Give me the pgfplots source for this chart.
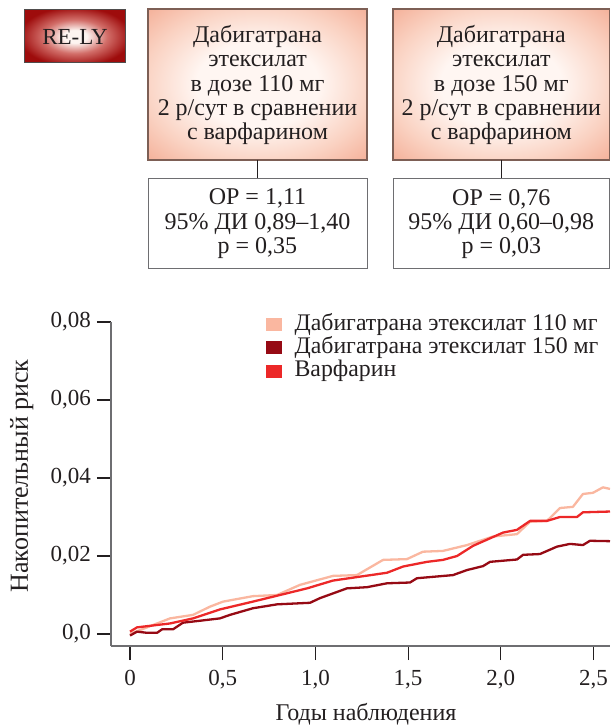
\documentclass[border=0pt]{standalone}
\usepackage{fontspec}
\setmainfont{Liberation Serif}
\usepackage{pgfplots}
\pgfplotsset{compat=1.18}

\definecolor{txt}{RGB}{35,31,32}
\definecolor{axgray}{RGB}{110,110,113}
\definecolor{boxline}{RGB}{125,95,85}
\definecolor{d110}{RGB}{250,183,160}
\definecolor{d150}{RGB}{150,10,20}
\definecolor{warf}{RGB}{236,40,40}
\definecolor{boxin}{RGB}{255,246,242}
\definecolor{boxmid}{RGB}{250,210,194}
\definecolor{boxout}{RGB}{243,168,143}
\definecolor{badgein}{RGB}{253,244,240}
\definecolor{badgemid}{RGB}{210,110,105}
\definecolor{badgeout}{RGB}{158,12,12}

\pgfdeclareradialshading{boxglow}{\pgfpoint{0bp}{0bp}}{%
  color(0bp)=(boxin); color(14bp)=(boxin); color(26bp)=(boxmid);
  color(38bp)=(boxout); color(50bp)=(boxout)}
\pgfdeclareradialshading{badgeglow}{\pgfpoint{0bp}{0bp}}{%
  color(0bp)=(badgein); color(6bp)=(badgein); color(16bp)=(badgemid);
  color(28bp)=(badgeout); color(50bp)=(badgeout)}

\pgfplotstableread{
x y
0.000 0.0000
0.054 0.0010
0.216 0.0040
0.340 0.0049
0.431 0.0070
0.502 0.0083
0.663 0.0097
0.793 0.0100
0.917 0.0126
1.095 0.0149
1.224 0.0151
1.365 0.0190
1.494 0.0192
1.580 0.0211
1.688 0.0213
1.818 0.0228
1.958 0.0250
2.087 0.0256
2.158 0.0288
2.249 0.0290
2.319 0.0323
2.389 0.0326
2.443 0.0359
2.497 0.0362
2.551 0.0376
2.589 0.0372
}\dabiA

\pgfplotstableread{
x y
0.000 -0.0004
0.038 0.0006
0.092 0.0003
0.146 0.0003
0.173 0.0012
0.232 0.0012
0.286 0.0029
0.378 0.0034
0.485 0.0040
0.539 0.0049
0.663 0.0066
0.793 0.0076
0.971 0.0080
1.025 0.0092
1.170 0.0117
1.278 0.0120
1.386 0.0130
1.510 0.0132
1.548 0.0143
1.742 0.0151
1.818 0.0164
1.904 0.0174
1.942 0.0185
2.087 0.0191
2.120 0.0203
2.211 0.0205
2.303 0.0224
2.373 0.0231
2.443 0.0228
2.481 0.0239
2.589 0.0238
}\dabiB

\pgfplotstableread{
x y
0.000 0.0006
0.038 0.0017
0.216 0.0027
0.340 0.0040
0.485 0.0063
0.663 0.0083
0.809 0.0100
0.955 0.0117
1.095 0.0137
1.240 0.0147
1.386 0.0157
1.473 0.0173
1.602 0.0185
1.688 0.0190
1.764 0.0200
1.850 0.0226
2.012 0.0260
2.087 0.0267
2.158 0.0290
2.249 0.0290
2.319 0.0300
2.411 0.0300
2.443 0.0312
2.589 0.0314
}\warfarin

\begin{document}
\begin{tikzpicture}[x=1pt, y=1pt, font=\fontsize{12}{12.2}\selectfont, color=txt]
  \begin{axis}[
      scale only axis,
      width=249.5pt,
      height=162pt,
      xmin=-0.1025, xmax=2.589,
      ymin=-0.00308, ymax=0.08,
      scaled y ticks=false,
      axis x line*=bottom,
      axis y line*=left,
      axis line style={axgray, line width=0.6pt},
      tick align=outside,
      major tick length=7pt,
      tick style={txt, line width=0.6pt},
      xtick={0,0.5,1,1.5,2,2.5},
      xticklabels={0,{0,5},{1,0},{1,5},{2,0},{2,5}},
      ytick={0,0.02,0.04,0.06,0.08},
      yticklabels={{0,0},{0,02},{0,04},{0,06},{0,08}},
      ticklabel style={font=\fontsize{11.5}{12}\selectfont, text=txt},
      yticklabel style={xshift=0.5pt},
      xticklabel style={yshift=-1.5pt},
      ylabel={Накопительный риск},
      ylabel style={at={(axis description cs:-0.179,0.525)}, anchor=center,
        font=\fontsize{13}{13}\selectfont},
      xlabel={Годы наблюдения},
      xlabel style={at={(axis description cs:0.511,-0.21)}, anchor=center,
        font=\fontsize{12}{12}\selectfont},
      label style={text=txt},
      legend style={draw=none, fill=none, at={(axis description cs:0.309,1.03)},
        anchor=north west, row sep=0pt, column sep=6pt, inner sep=0pt,
        nodes={inner sep=0.5pt, text height=8.2pt, text depth=2.5pt},
        font=\fontsize{11.9}{12}\selectfont, text=txt},
      legend cell align=left,
      legend image code/.code={\fill[#1, draw=none] (0pt,-3.2pt) rectangle (8pt,3.3pt);},
      every axis plot/.append style={line width=1.15pt, line join=round},
    ]
    \addplot[d110] table[x=x, y=y] {\dabiA};
    \addlegendentry{Дабигатрана этексилат 110 мг}
    \addplot[d150] table[x=x, y=y] {\dabiB};
    \addlegendentry{Дабигатрана этексилат 150 мг}
    \addplot[warf] table[x=x, y=y] {\warfarin};
    \addlegendentry{Варфарин}
  \end{axis}

  % header: badge, comparison boxes, statistics
  \draw[txt!80, line width=0.5pt, shading=badgeglow]
    (-43,318) rectangle (7,291.5);
  \node[font=\fontsize{11.5}{12}\selectfont] at (-18,304.5) {RE-LY};

  \foreach \xl/\xr/\dose/\hr/\ci/\pv in
      {18.5/128/110/{1,11}/{0,89–1,40}/{0,35}, 141/249.3/150/{0,76}/{0,60–0,98}/{0,03}} {
    \draw[boxline, line width=0.6pt, shading=boxglow]
      (\xl,318.5) rectangle (\xr,243);
    \node[align=center] at ({(\xl+\xr)/2},280.5)
      {Дабигатрана\\этексилат\\в дозе \dose{} мг\\2 р/сут в сравнении\\с варфарином};
    \draw[txt, line width=0.5pt] ({(\xl+\xr)/2},243) -- ({(\xl+\xr)/2},233.5);
    \draw[axgray, line width=0.5pt, fill=white] (\xl,233.5) rectangle (\xr,188.5);
    \node[align=center] at ({(\xl+\xr)/2},211)
      {ОР = \hr\\95\% ДИ \ci\\р = \pv};
  }

  \pgfresetboundingbox
  \useasboundingbox (-55.5,-40.5) rectangle (249.5,323);
\end{tikzpicture}
\end{document}
